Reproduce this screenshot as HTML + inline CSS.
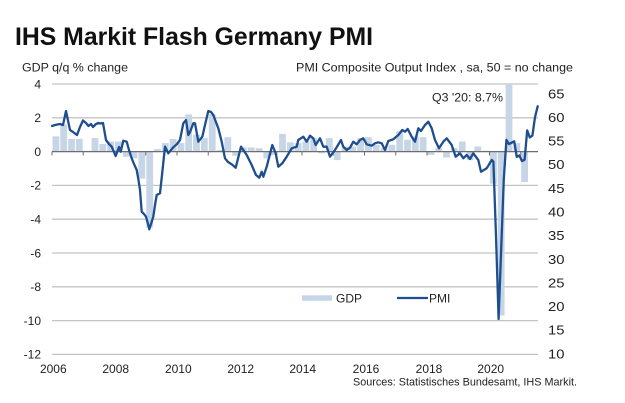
<!DOCTYPE html>
<html><head><meta charset="utf-8">
<style>html,body{margin:0;padding:0;background:#fff;}svg{display:block}</style></head>
<body>
<svg width="625" height="403" viewBox="0 0 625 403" xmlns="http://www.w3.org/2000/svg" font-family="Liberation Sans, Arial, sans-serif">
<rect x="0" y="0" width="625" height="403" fill="#fff"/>
<text x="15" y="45" font-size="25" font-weight="bold" fill="#111" textLength="358" lengthAdjust="spacingAndGlyphs">IHS Markit Flash Germany PMI</text>
<text x="22" y="71.7" font-size="11.5" fill="#222" textLength="106" lengthAdjust="spacingAndGlyphs">GDP q/q % change</text>
<text x="296" y="71.7" font-size="11.5" fill="#222" textLength="277" lengthAdjust="spacingAndGlyphs">PMI Composite  Output  Index  , sa, 50 = no change</text>
<g stroke="#c4c4c4" stroke-width="1.3">
<line x1="52" y1="84" x2="538" y2="84"/>
<line x1="52" y1="117.8" x2="538" y2="117.8"/>
<line x1="52" y1="185.4" x2="538" y2="185.4"/>
<line x1="52" y1="219.2" x2="538" y2="219.2"/>
<line x1="52" y1="253" x2="538" y2="253"/>
<line x1="52" y1="286.8" x2="538" y2="286.8"/>
<line x1="52" y1="320.6" x2="538" y2="320.6"/>
<line x1="52" y1="354.4" x2="538" y2="354.4"/>
</g>
<g fill="#c6d6e6">
<rect x="52.5" y="136.4" width="6.8" height="15.2"/>
<rect x="60.3" y="124.6" width="6.8" height="27"/>
<rect x="68.1" y="138.9" width="6.8" height="12.7"/>
<rect x="75.9" y="138.9" width="6.8" height="12.7"/>
<rect x="83.8" y="150.75" width="6.8" height="0.85"/>
<rect x="91.6" y="138.1" width="6.8" height="13.5"/>
<rect x="99.4" y="144" width="6.8" height="7.6"/>
<rect x="107.2" y="141.5" width="6.8" height="10.1"/>
<rect x="115" y="141.5" width="6.8" height="10.1"/>
<rect x="122.8" y="151.6" width="6.8" height="5.1"/>
<rect x="130.6" y="151.6" width="6.8" height="6.8"/>
<rect x="138.4" y="151.6" width="6.8" height="27"/>
<rect x="146.3" y="151.6" width="6.8" height="76.1"/>
<rect x="154.1" y="149.1" width="6.8" height="2.5"/>
<rect x="161.9" y="143.1" width="6.8" height="8.5"/>
<rect x="169.7" y="138.9" width="6.8" height="12.7"/>
<rect x="177.5" y="143.1" width="6.8" height="8.5"/>
<rect x="185.3" y="114.4" width="6.8" height="37.2"/>
<rect x="193.1" y="134.7" width="6.8" height="16.9"/>
<rect x="200.9" y="138.1" width="6.8" height="13.5"/>
<rect x="208.8" y="114.4" width="6.8" height="37.2"/>
<rect x="216.6" y="149.9" width="6.8" height="1.7"/>
<rect x="224.4" y="137.2" width="6.8" height="14.4"/>
<rect x="232.2" y="151.6" width="6.8" height="4.2"/>
<rect x="240" y="147.4" width="6.8" height="4.2"/>
<rect x="247.8" y="147.4" width="6.8" height="4.2"/>
<rect x="255.6" y="148.2" width="6.8" height="3.4"/>
<rect x="263.4" y="151.6" width="6.8" height="6.8"/>
<rect x="271.3" y="151.6" width="6.8" height="3.4"/>
<rect x="279.1" y="133.9" width="6.8" height="17.7"/>
<rect x="286.9" y="142.3" width="6.8" height="9.3"/>
<rect x="294.7" y="143.1" width="6.8" height="8.5"/>
<rect x="302.5" y="141.5" width="6.8" height="10.1"/>
<rect x="310.3" y="138.1" width="6.8" height="13.5"/>
<rect x="318.1" y="151.6" width="6.8" height="1.7"/>
<rect x="325.9" y="138.1" width="6.8" height="13.5"/>
<rect x="333.8" y="151.6" width="6.8" height="8.5"/>
<rect x="341.6" y="146.5" width="6.8" height="5.1"/>
<rect x="349.4" y="146.5" width="6.8" height="5.1"/>
<rect x="357.2" y="138.1" width="6.8" height="13.5"/>
<rect x="365" y="137.2" width="6.8" height="14.4"/>
<rect x="372.8" y="144.8" width="6.8" height="6.8"/>
<rect x="380.6" y="148.2" width="6.8" height="3.4"/>
<rect x="388.4" y="144.8" width="6.8" height="6.8"/>
<rect x="396.3" y="131.3" width="6.8" height="20.3"/>
<rect x="404.1" y="139.8" width="6.8" height="11.8"/>
<rect x="411.9" y="136.4" width="6.8" height="15.2"/>
<rect x="419.7" y="137.2" width="6.8" height="14.4"/>
<rect x="427.5" y="151.6" width="6.8" height="3.4"/>
<rect x="435.3" y="148.2" width="6.8" height="3.4"/>
<rect x="443.1" y="151.6" width="6.8" height="5.9"/>
<rect x="450.9" y="148.2" width="6.8" height="3.4"/>
<rect x="458.8" y="141.5" width="6.8" height="10.1"/>
<rect x="466.6" y="151.6" width="6.8" height="8.5"/>
<rect x="474.4" y="146.5" width="6.8" height="5.1"/>
<rect x="482.2" y="150.75" width="6.8" height="0.85"/>
<rect x="490" y="151.6" width="6.8" height="32.1"/>
<rect x="497.8" y="151.6" width="6.8" height="163.9"/>
<rect x="505.6" y="84" width="6.8" height="67.6"/>
<rect x="513.4" y="143.1" width="6.8" height="8.5"/>
<rect x="521.2" y="151.6" width="6.8" height="30.4"/>
</g>
<line x1="52" y1="151.6" x2="538" y2="151.6" stroke="#6e6e6e" stroke-width="1.3"/>
<g stroke="#6e6e6e" stroke-width="1">
<line x1="52" y1="151.6" x2="52" y2="155.5"/>
<line x1="83.25" y1="151.6" x2="83.25" y2="155.5"/>
<line x1="114.5" y1="151.6" x2="114.5" y2="155.5"/>
<line x1="145.75" y1="151.6" x2="145.75" y2="155.5"/>
<line x1="177" y1="151.6" x2="177" y2="155.5"/>
<line x1="208.25" y1="151.6" x2="208.25" y2="155.5"/>
<line x1="239.5" y1="151.6" x2="239.5" y2="155.5"/>
<line x1="270.75" y1="151.6" x2="270.75" y2="155.5"/>
<line x1="302" y1="151.6" x2="302" y2="155.5"/>
<line x1="333.25" y1="151.6" x2="333.25" y2="155.5"/>
<line x1="364.5" y1="151.6" x2="364.5" y2="155.5"/>
<line x1="395.75" y1="151.6" x2="395.75" y2="155.5"/>
<line x1="427" y1="151.6" x2="427" y2="155.5"/>
<line x1="458.25" y1="151.6" x2="458.25" y2="155.5"/>
<line x1="489.5" y1="151.6" x2="489.5" y2="155.5"/>
<line x1="520.75" y1="151.6" x2="520.75" y2="155.5"/>
</g>
<polyline fill="none" stroke="#1f4e8f" stroke-width="2.3" stroke-linejoin="round" stroke-linecap="round" points="52,126 55,125 60,124 63,125 66,111 70,130 73,132 77,135 80,127 83,120.5 86,123 88.5,126 91,124 93,127 96,124 98.5,123 100,123.5 103,123 106,140 109,144 111.7,146.7 114,152 115.7,156 119,147 120.7,151.7 123.3,140.7 126.7,141.7 129,150 131.7,158.3 134,164 136.7,170 138.5,180 140,190 141.7,211.7 144,214 146,216.7 148,224 149.3,229.3 151,224 153.3,216.7 155,205 156.7,195 158.5,194 160,193.3 162,175 165,146.7 168.3,153.3 171,150 173.3,147.3 177,144 180,140 183.3,123.3 186,120 188.3,135 190,132 193.3,123.3 195,123.3 198.3,141.7 202.3,136.7 205,125 208.3,111 211,112 213.3,115 218.3,128.3 221.7,141.7 225,158.3 228,162 231.7,164.3 235.7,167.7 241,146.7 246.7,155 251.7,165 256,175 259.3,177.7 261.7,171.7 263.3,176.7 266.7,166.7 272.3,145 275.7,153.3 278.3,166.7 282.3,163.3 286.7,156.7 291.7,148.3 296.7,146.7 298.3,140 303.3,136.7 306.7,141.7 310,135.7 313.3,138.3 315.7,145 320,138.3 323.3,146.7 326.7,146.7 330,156.7 335,150 341,140 343.3,146.7 346.7,150 350,147.7 353.3,141.7 356.7,144.3 360,140 363.3,138.3 366.7,144.3 371.7,145.7 375,143.3 378.3,142.3 381.7,143.3 385,150 388.3,141 393.3,139.3 398.3,135 402.3,130 405,131.7 407.7,129 411.7,136.7 415,141.7 418.3,128.3 421,131 425,125 428.3,121.7 431.7,128.3 435,140 439,148.3 443.3,141.7 446.7,138.3 451.7,145 455.7,156.7 460,153.3 463.3,158.3 466.7,155 470,159 473.3,153.3 478.3,160 481,171.7 486.7,168.3 491.7,160 493.4,161.6 496,235.8 498.6,319 501.2,248.6 503.8,179.1 506.4,139.9 509,144.1 511.6,142.7 514.2,141.3 516.8,156.9 519.4,155.5 522,161.1 524.6,159.7 527.2,130.4 529.8,137.5 532.4,135.6 535,117.2 537.7,106.3"/>
<g font-size="12" fill="#222" text-anchor="end">
<text x="41" y="88.3">4</text>
<text x="41" y="122.1">2</text>
<text x="41" y="155.9">0</text>
<text x="41" y="189.7">-2</text>
<text x="41" y="223.5">-4</text>
<text x="41" y="257.3">-6</text>
<text x="41" y="291.1">-8</text>
<text x="41" y="324.9">-10</text>
<text x="41" y="358.7">-12</text>
</g>
<g font-size="12.5" fill="#222">
<text x="548" y="98.3" textLength="16.5" lengthAdjust="spacingAndGlyphs">65</text>
<text x="548" y="121.9" textLength="16.5" lengthAdjust="spacingAndGlyphs">60</text>
<text x="548" y="145.6" textLength="16.5" lengthAdjust="spacingAndGlyphs">55</text>
<text x="548" y="169.2" textLength="16.5" lengthAdjust="spacingAndGlyphs">50</text>
<text x="548" y="192.8" textLength="16.5" lengthAdjust="spacingAndGlyphs">45</text>
<text x="548" y="216.5" textLength="16.5" lengthAdjust="spacingAndGlyphs">40</text>
<text x="548" y="240.1" textLength="16.5" lengthAdjust="spacingAndGlyphs">35</text>
<text x="548" y="263.8" textLength="16.5" lengthAdjust="spacingAndGlyphs">30</text>
<text x="548" y="287.4" textLength="16.5" lengthAdjust="spacingAndGlyphs">25</text>
<text x="548" y="311" textLength="16.5" lengthAdjust="spacingAndGlyphs">20</text>
<text x="548" y="334.7" textLength="16.5" lengthAdjust="spacingAndGlyphs">15</text>
<text x="548" y="358.3" textLength="16.5" lengthAdjust="spacingAndGlyphs">10</text>
</g>
<g font-size="12" fill="#222" text-anchor="middle">
<text x="53.3" y="373">2006</text>
<text x="115.7" y="373">2008</text>
<text x="178.3" y="373">2010</text>
<text x="240.7" y="373">2012</text>
<text x="302.7" y="373">2014</text>
<text x="366" y="373">2016</text>
<text x="429" y="373">2018</text>
<text x="490.7" y="373">2020</text>
</g>
<text x="432" y="101.5" font-size="12" fill="#222" textLength="71" lengthAdjust="spacingAndGlyphs">Q3 '20: 8.7%</text>
<rect x="302" y="295.3" width="30" height="5.5" fill="#c6d6e6"/>
<text x="336" y="302.5" font-size="12" fill="#222">GDP</text>
<line x1="397" y1="298" x2="428" y2="298" stroke="#1f4e8f" stroke-width="2.3"/>
<text x="429" y="302.5" font-size="12" fill="#222">PMI</text>
<text x="353" y="385.7" font-size="11" fill="#222" textLength="224" lengthAdjust="spacingAndGlyphs">Sources: Statistisches Bundesamt, IHS Markit.</text>
</svg>
</body></html>
